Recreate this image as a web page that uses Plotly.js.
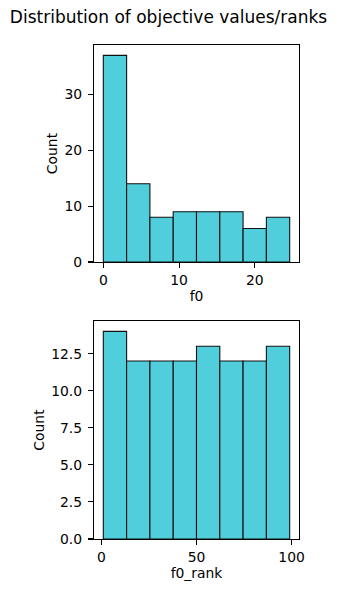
<!DOCTYPE html>
<html>
<head>
<meta charset="utf-8">
<script src="https://cdn.plot.ly/plotly-3.0.1.min.js"></script>
<style>html,body{margin:0;padding:0;background:#fff;}#chart{width:337px;height:592px;}</style>
</head>
<body>
<div id="chart"></div>
<script>
// Top histogram: f0
const f0BinEdges = [0, 3.075, 6.15, 9.225, 12.3, 15.375, 18.45, 21.525, 24.6];
const f0Counts = [37, 14, 8, 9, 9, 9, 6, 8];
// Bottom histogram: f0_rank
const rankBinEdges = [1, 13.25, 25.5, 37.75, 50, 62.25, 74.5, 86.75, 99];
const rankCounts = [14, 12, 12, 12, 13, 12, 12, 13];
const f0TickVals = [0, 10, 20];
const countTicksTop = [0, 10, 20, 30];
const rankTickVals = [0, 50, 100];
const countTicksBottom = [0, 2.5, 5, 7.5, 10, 12.5];
const countTickTextBottom = ['0.0', '2.5', '5.0', '7.5', '10.0', '12.5'];

function centers(e){ const c=[]; for(let i=0;i<e.length-1;i++) c.push((e[i]+e[i+1])/2); return c; }
function widths(e){ const w=[]; for(let i=0;i<e.length-1;i++) w.push(e[i+1]-e[i]); return w; }

const fill = '#51cedb';
const font = {family: 'DejaVu Sans', size: 13.9, color: '#000'};

const traces = [
  {type:'bar', x:centers(f0BinEdges), y:f0Counts, width:widths(f0BinEdges),
   marker:{color:fill, line:{color:'#111', width:1.1}}, xaxis:'x', yaxis:'y', hoverinfo:'skip'},
  {type:'bar', x:centers(rankBinEdges), y:rankCounts, width:widths(rankBinEdges),
   marker:{color:fill, line:{color:'#111', width:1.1}}, xaxis:'x2', yaxis:'y2', hoverinfo:'skip'}
];

const f0Span = f0BinEdges[f0BinEdges.length-1]-f0BinEdges[0];
const rSpan = rankBinEdges[rankBinEdges.length-1]-rankBinEdges[0];

const axBase = {showline:true, linecolor:'#000', linewidth:1.1, mirror:true, ticks:'outside',
  ticklen:5, tickwidth:1.1, tickcolor:'#000', showgrid:false, zeroline:false,
  tickfont:font, fixedrange:true};

const layout = {
  width:337, height:592, margin:{l:0,r:0,t:0,b:0}, showlegend:false,
  paper_bgcolor:'#fff', plot_bgcolor:'#fff', bargap:0, font:font,
  title:{text:'Distribution of objective values/ranks', font:{family:'DejaVu Sans', size:17, color:'#000'},
    x:0.5, xanchor:'center', y:1-17/592, yanchor:'middle', xref:'paper', yref:'paper'},
  xaxis: Object.assign({}, axBase, {domain:[94/337, 299/337], anchor:'y',
    range:[f0BinEdges[0]-0.05*f0Span, f0BinEdges[8]+0.05*f0Span], tickvals:f0TickVals,
    ticklabelstandoff:0,
    title:{text:'f0', font:font, standoff:4}}),
  yaxis: Object.assign({}, axBase, {domain:[(592-262)/592, (592-45)/592], anchor:'x',
    range:[0, Math.max(...f0Counts)*1.05], tickvals:countTicksTop,
    ticklabelstandoff:3,
    title:{text:'Count', font:font, standoff:3}}),
  xaxis2: Object.assign({}, axBase, {domain:[94/337, 299/337], anchor:'y2',
    range:[rankBinEdges[0]-0.05*rSpan, rankBinEdges[8]+0.05*rSpan], tickvals:rankTickVals,
    ticklabelstandoff:0,
    title:{text:'f0_rank', font:font, standoff:4}}),
  yaxis2: Object.assign({}, axBase, {domain:[(592-539)/592, (592-321)/592], anchor:'x2',
    range:[0, Math.max(...rankCounts)*1.05], tickvals:countTicksBottom, ticktext:countTickTextBottom,
    ticklabelstandoff:3,
    title:{text:'Count', font:font, standoff:3}})
};

Plotly.newPlot('chart', traces, layout, {displayModeBar:false, staticPlot:true});
</script>
</body>
</html>
